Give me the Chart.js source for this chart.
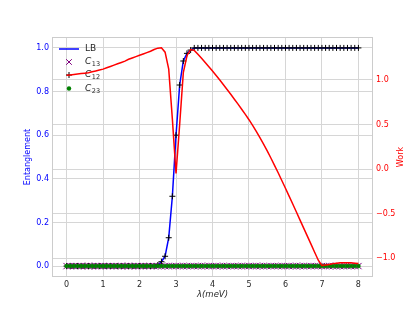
<!DOCTYPE html>
<html><head><meta charset="utf-8">
<script src="https://cdn.jsdelivr.net/npm/chart.js@4.4.0/dist/chart.umd.min.js"></script>
<style>html,body{margin:0;padding:0;background:#fff;}canvas{display:block;}</style>
</head><body>
<canvas id="c" width="415" height="311"></canvas>
<script>
const lambda = [0.0,0.1,0.2,0.3,0.4,0.5,0.6,0.7,0.8,0.9,1.0,1.1,1.2,1.3,1.4,1.5,1.6,1.7,1.8,1.9,2.0,2.1,2.2,2.3,2.4,2.5,2.6,2.7,2.8,2.9,3.0,3.1,3.2,3.3,3.4,3.5,3.6,3.7,3.8,3.9,4.0,4.1,4.2,4.3,4.4,4.5,4.6,4.7,4.8,4.9,5.0,5.1,5.2,5.3,5.4,5.5,5.6,5.7,5.8,5.9,6.0,6.1,6.2,6.3,6.4,6.5,6.6,6.7,6.8,6.9,7.0,7.1,7.2,7.3,7.4,7.5,7.6,7.7,7.8,7.9,8.0];
const xTicks = [0,1,2,3,4,5,6,7,8];
const leftTicks = [0,0.2,0.4,0.6,0.8,1.0];
const rightTicks = [-1,-0.5,0,0.5,1];
const lb = [0,0,0,0,0,0,0,0,0,0,0,0,0,0,0,0,0,0,0,0,0,0,0,0,0,0.005,0.02,0.045,0.13,0.32,0.60,0.83,0.94,0.975,0.99,1,1,1,1,1,1,1,1,1,1,1,1,1,1,1,1,1,1,1,1,1,1,1,1,1,1,1,1,1,1,1,1,1,1,1,1,1,1,1,1,1,1,1,1,1,1];
const c12 = [0,0,0,0,0,0,0,0,0,0,0,0,0,0,0,0,0,0,0,0,0,0,0,0,0,0.005,0.02,0.045,0.13,0.32,0.60,0.83,0.94,0.975,0.99,1,1,1,1,1,1,1,1,1,1,1,1,1,1,1,1,1,1,1,1,1,1,1,1,1,1,1,1,1,1,1,1,1,1,1,1,1,1,1,1,1,1,1,1,1,1];
const c13 = [0,0,0,0,0,0,0,0,0,0,0,0,0,0,0,0,0,0,0,0,0,0,0,0,0,0,0,0,0,0,0,0,0,0,0,0,0,0,0,0,0,0,0,0,0,0,0,0,0,0,0,0,0,0,0,0,0,0,0,0,0,0,0,0,0,0,0,0,0,0,0,0,0,0,0,0,0,0,0,0,0];
const c23 = [0,0,0,0,0,0,0,0,0,0,0,0,0,0,0,0,0,0,0,0,0,0,0,0,0,0,0,0,0,0,0,0,0,0,0,0,0,0,0,0,0,0,0,0,0,0,0,0,0,0,0,0,0,0,0,0,0,0,0,0,0,0,0,0,0,0,0,0,0,0,0,0,0,0,0,0,0,0,0,0,0];
const work = [1.05,1.055,1.06,1.065,1.07,1.075,1.08,1.09,1.10,1.11,1.12,1.135,1.15,1.165,1.18,1.195,1.21,1.23,1.245,1.26,1.275,1.29,1.305,1.32,1.34,1.355,1.36,1.31,1.12,0.56,-0.05,0.50,1.08,1.27,1.34,1.33,1.287,1.242,1.195,1.147,1.098,1.048,0.997,0.945,0.892,0.838,0.783,0.727,0.670,0.612,0.553,0.489,0.422,0.352,0.279,0.203,0.124,0.042,-0.042,-0.128,-0.215,-0.303,-0.392,-0.482,-0.572,-0.662,-0.752,-0.842,-0.932,-1.022,-1.08,-1.075,-1.07,-1.06,-1.055,-1.05,-1.05,-1.05,-1.05,-1.055,-1.06];
const legendLabels = [['LB',''],['C','13'],['C','12'],['C','23']];
const xTitle = 'λ(meV)';
const leftTitle = 'Entanglement';
const rightTitle = 'Work';

const FAM = "'DejaVu Sans', sans-serif";
const pts = ys => lambda.map((x,i)=>({x:x, y:ys[i]}));
const fmt = v => Number(v).toFixed(1).replace('-', '\u2212');
const GRID = '#d6d6d6';

const deco = {
  id:'deco',
  beforeDatasetsDraw(chart){
    const ctx = chart.ctx;
    ctx.save();
    const tx = 85, ys = [49, 62, 75, 88.5], mx = 69;
    ctx.strokeStyle = 'blue'; ctx.lineWidth = 1.5;
    ctx.beginPath(); ctx.moveTo(59, ys[0]); ctx.lineTo(79, ys[0]); ctx.stroke();
    ctx.strokeStyle = 'purple'; ctx.lineWidth = 1;
    ctx.beginPath(); ctx.moveTo(mx-2.8, ys[1]-2.8); ctx.lineTo(mx+2.8, ys[1]+2.8);
    ctx.moveTo(mx-2.8, ys[1]+2.8); ctx.lineTo(mx+2.8, ys[1]-2.8); ctx.stroke();
    ctx.strokeStyle = '#000';
    ctx.beginPath(); ctx.moveTo(mx-3, ys[2]); ctx.lineTo(mx+3, ys[2]);
    ctx.moveTo(mx, ys[2]-3); ctx.lineTo(mx, ys[2]+3); ctx.stroke();
    ctx.fillStyle = 'green';
    ctx.beginPath(); ctx.arc(mx, ys[3], 2.2, 0, Math.PI*2); ctx.fill();
    ctx.fillStyle = '#262626'; ctx.textBaseline = 'middle'; ctx.textAlign = 'left';
    legendLabels.forEach((lab, i) => {
      if (!lab[1]) {
        ctx.font = '9px ' + FAM;
        ctx.fillText(lab[0], tx, ys[i]);
      } else {
        ctx.font = 'italic 9px ' + FAM;
        ctx.fillText(lab[0], tx, ys[i]);
        const w = ctx.measureText(lab[0]).width;
        ctx.font = '6.5px ' + FAM;
        ctx.fillText(lab[1], tx + w + 0.5, ys[i] + 2.5);
      }
    });
    ctx.restore();
  },
  afterDraw(chart){
    const ctx = chart.ctx, a = chart.chartArea;
    ctx.save();
    ctx.strokeStyle = '#cccccc'; ctx.lineWidth = 1;
    ctx.strokeRect(Math.round(a.left)+0.5, Math.round(a.top)+0.5, Math.round(a.right-a.left)-1, Math.round(a.bottom-a.top)-1);
    const cy = (a.top + a.bottom) / 2;
    ctx.textAlign = 'center'; ctx.textBaseline = 'middle';
    ctx.font = '8px ' + FAM;
    ctx.save(); ctx.translate(28, cy); ctx.rotate(-Math.PI/2); ctx.fillStyle = 'blue'; ctx.fillText(leftTitle, 0, 0); ctx.restore();
    ctx.save(); ctx.translate(401, cy); ctx.rotate(-Math.PI/2); ctx.fillStyle = 'red'; ctx.fillText(rightTitle, 0, 0); ctx.restore();
    ctx.font = 'italic 8.5px ' + FAM; ctx.fillStyle = '#262626';
    ctx.fillText(xTitle, (a.left + a.right) / 2, 295);
    ctx.restore();
  }
};

new Chart(document.getElementById('c'), {
  type: 'line',
  data: { datasets: [
    {label:'Work', data: pts(work), yAxisID:'y1', borderColor:'red', borderWidth:1.5, pointRadius:0, fill:false, tension:0, order:0},
    {label:'C23', data: pts(c23), yAxisID:'y', showLine:false, pointStyle:'circle', pointRadius:2, pointBackgroundColor:'green', pointBorderColor:'green', pointBorderWidth:0.5, order:1},
    {label:'C12', data: pts(c12), yAxisID:'y', showLine:false, pointStyle:'cross', pointRadius:3, pointBorderColor:'#000', pointBorderWidth:1, order:2},
    {label:'C13', data: pts(c13), yAxisID:'y', showLine:false, pointStyle:'crossRot', pointRadius:4.5, pointBorderColor:'purple', pointBorderWidth:1, order:3},
    {label:'LB', data: pts(lb), yAxisID:'y', borderColor:'blue', borderWidth:1.5, pointRadius:0, fill:false, tension:0, order:4}
  ]},
  options: {
    responsive:false, animation:false,
    layout:{padding:{top:37,left:0,right:0,bottom:0}},
    plugins:{legend:{display:false}, tooltip:{enabled:false}},
    scales:{
      x:{type:'linear', min:-0.4, max:8.4,
        afterBuildTicks: s => { s.ticks = xTicks.map(v=>({value:v})); },
        afterFit: s => { s.height = 34; },
        grid:{color:GRID, drawTicks:false, lineWidth:1}, border:{display:false},
        ticks:{padding:3, color:'#262626', font:{family:FAM, size:8}, callback: v => String(v), maxRotation:0}},
      y:{position:'left', min:-0.05, max:1.05,
        afterBuildTicks: s => { s.ticks = leftTicks.map(v=>({value:v})); },
        afterFit: s => { s.width = 52; },
        grid:{color:GRID, drawTicks:false, lineWidth:1}, border:{display:false},
        ticks:{padding:3, color:'blue', font:{family:FAM, size:8}, callback: v => fmt(v)}},
      y1:{position:'right', min:-1.21, max:1.48,
        afterBuildTicks: s => { s.ticks = rightTicks.map(v=>({value:v})); },
        afterFit: s => { s.width = 42; },
        grid:{color:GRID, drawTicks:false, lineWidth:1, drawOnChartArea:true}, border:{display:false},
        ticks:{padding:3, color:'red', font:{family:FAM, size:8}, callback: v => fmt(v)}}
    }
  },
  plugins:[deco]
});
</script>
</body></html>
